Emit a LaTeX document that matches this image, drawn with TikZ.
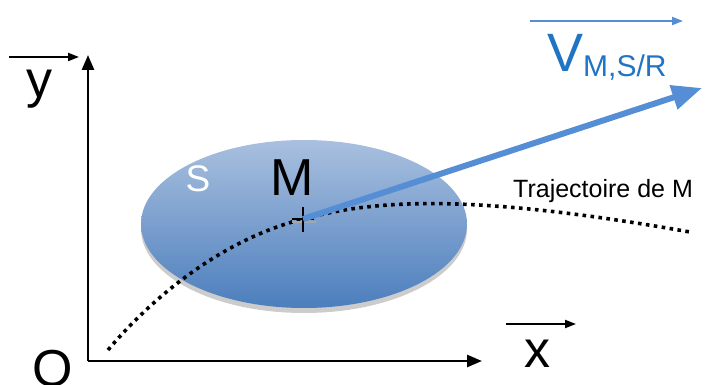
\documentclass[tikz,border=0pt]{standalone}
\usepackage{fontspec}
\setmainfont{Liberation Sans}
\usepackage{xcolor}
\usetikzlibrary{
  arrows.meta,
  positioning,
  calc,
}
\definecolor{disktop}{HTML}{A9C0DF}
\definecolor{diskbot}{HTML}{4C7EBD}
\definecolor{vecblue}{HTML}{558ED5}
\definecolor{labblue}{HTML}{1F74C4}

\begin{document}
\begin{tikzpicture}[
    x=1pt, y=-1pt,
    axis/.style={line width=2.6pt, -{Triangle[length=15pt,width=12pt]}},
    overarrow/.style={line width=2pt, -{Triangle[length=11pt,width=8pt]}},
    big/.style={font=\fontsize{52}{52}\selectfont, inner sep=0pt},
    traject/.style={line width=3.6pt, dash pattern=on 3.6pt off 4.4pt},
  ]
  \useasboundingbox (0,0) rectangle (707,385);

  % Axes
  \coordinate (O) at (88,361);
  \coordinate (ytip) at (88,55);
  \coordinate (xtip) at (482,361);
  \draw[axis] (O) -- (ytip);
  \draw[axis] (O) -- (xtip);
  \node[big, anchor=base] (olab) at (53,386) {O};
  \node[big, anchor=base] (ylab) at (40,98) {y};
  \node[big, anchor=base] (xlab) at (537,367) {x};
  \coordinate (ya) at (9,57);   \coordinate (yb) at (79,57);
  \coordinate (xa) at (506,324); \coordinate (xb) at (576,324);
  \draw[overarrow] (ya) -- (yb);
  \draw[overarrow] (xa) -- (xb);

  % Solid S
  \fill[black!20] (304,229) ellipse [x radius=163pt, y radius=84pt];
  \shade[top color=disktop, bottom color=diskbot]
    (304,224) ellipse [x radius=163pt, y radius=84pt];
  \node[font=\fontsize{37}{37}\selectfont, white, anchor=base, inner sep=0pt]
    (slab) at (198,192) {S};

  % Point M and its trajectory
  \coordinate (M) at (303,219);
  \coordinate (tstart) at (108,350);
  \coordinate (tend) at (690,232);
  \draw[traject] (tstart) .. controls (150,300) and (220,240) .. (M)
    .. controls (380,198) and (480,195) .. (tend);
  \draw[black!35, line width=2pt] ($(M)+(-11,3)$) -- ($(M)+(13,3)$);
  \draw[line width=1.6pt] ($(M)+(0,-12)$) -- ($(M)+(0,13)$);
  \draw[line width=1.6pt] ($(M)+(-11,0)$) -- ($(M)+(11,0)$);
  \node[big, anchor=base] (mlab) at (292,195) {M};
  \node[font=\fontsize{25}{25}\selectfont, anchor=base west, inner sep=0pt]
    (traj) at (513,197) {Trajectoire de M};

  % Velocity vector
  \coordinate (vtip) at (702,88);
  \draw[vecblue, line width=6pt, -{Triangle[length=30pt,width=24pt]}] (M) -- (vtip);
  \node[labblue, anchor=base west, inner sep=0pt] (vlab) at (547,72)
    {\fontsize{54}{54}\selectfont V\fontsize{30}{30}\selectfont\raisebox{-5pt}{M,S/R}};
  \coordinate (va) at (530,21); \coordinate (vb) at (683,21);
  \draw[overarrow, vecblue] (va) -- (vb);
\end{tikzpicture}
\end{document}
